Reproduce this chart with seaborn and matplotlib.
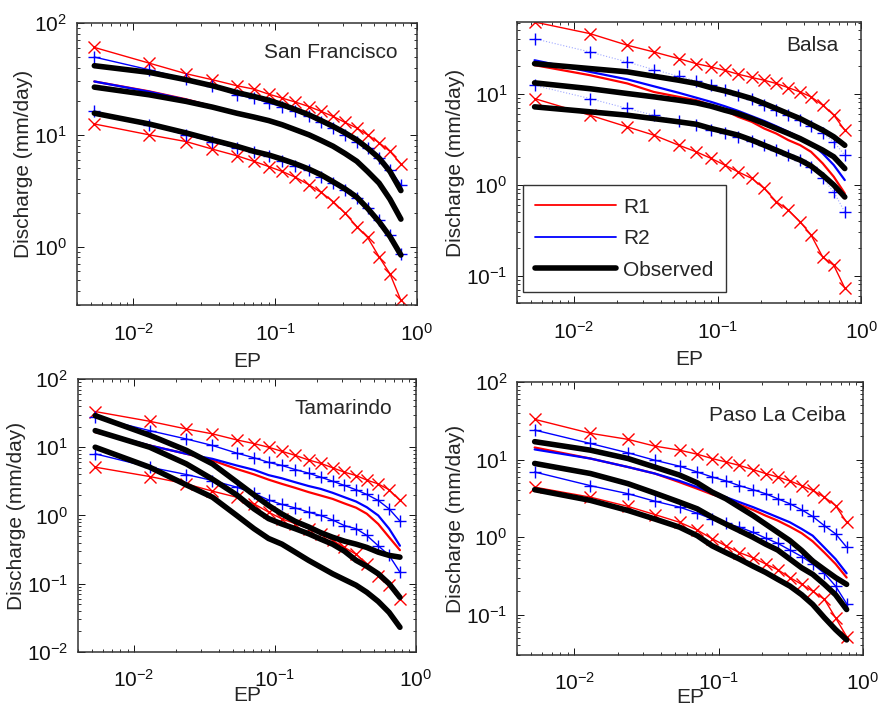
import numpy as np
import pandas as pd
import matplotlib
matplotlib.use("Agg")
import matplotlib.pyplot as plt
from matplotlib.lines import Line2D
import seaborn as sns

# ---------------- data ----------------
EP = [0.0053, 0.0129, 0.0235, 0.036, 0.0535, 0.071, 0.090, 0.112, 0.139,
      0.173, 0.211, 0.256, 0.311, 0.376, 0.448, 0.54, 0.645, 0.77]

STATIONS = ["San Francisco", "Balsa", "Tamarindo", "Paso La Ceiba"]

SF_R1_UP = [60.5, 43.8, 35.2, 31.1, 27.5, 25.6, 23.1, 21.3, 19.6, 17.9, 16.2, 14.6, 12.9, 11.5, 10.0, 8.5, 7.1, 5.5]
SF_R1_MED = [30, 24.5, 20.8, 18.0, 15.7, 14.5, 13.5, 12.4, 11.2, 10.1, 9.0, 8.0, 6.9, 5.9, 4.8, 3.8, 2.7, 1.8]
SF_R1_LOW = [12.5, 10.0, 8.7, 7.45, 6.5, 5.78, 5.2, 4.7, 4.17, 3.57, 3.05, 2.53, 1.99, 1.51, 1.21, 0.81, 0.57, 0.33]
SF_R2_UP = [49.6, 38.2, 31.5, 27.5, 22.8, 21.3, 19.2, 17.9, 16.2, 14.6, 12.9, 11.5, 10.0, 8.7, 7.6, 6.2, 4.86, 3.57]
SF_R2_MED = [30, 24.3, 20.6, 18.0, 15.7, 14.4, 13.4, 12.3, 11.1, 10.0, 8.9, 7.9, 6.8, 5.8, 4.7, 3.7, 2.65, 1.8]
SF_R2_LOW = [16.2, 12.3, 10.0, 8.7, 7.6, 6.95, 6.4, 5.85, 5.3, 4.8, 4.23, 3.74, 3.21, 2.71, 2.2, 1.73, 1.27, 0.86]
SF_OBS_1 = [41.5, 36.2, 31.1, 27.5, 23.9, 22.0, 20.4, 18.6, 16.8, 15.1, 13.4, 11.9, 10.4, 9.0, 7.6, 6.2, 4.7, 3.17]
SF_OBS_2 = [26.7, 22.8, 19.9, 17.7, 15.6, 14.4, 13.4, 12.3, 11.1, 10.0, 8.9, 7.9, 6.8, 5.8, 4.7, 3.7, 2.65, 1.76]
SF_OBS_3 = [15.6, 12.5, 10.4, 9.0, 7.9, 7.1, 6.6, 6.05, 5.5, 4.93, 4.38, 3.8, 3.28, 2.77, 2.2, 1.67, 1.23, 0.84]

BA_R1_UP = [61, 45.5, 33.9, 28.6, 24.2, 21.3, 19.6, 18.0, 16.3, 15.0, 14.0, 12.9, 11.6, 10.4, 9.2, 7.45, 5.8, 3.96]
BA_R1_MED = [20.5, 15.9, 12.9, 10.4, 9.2, 8.45, 7.45, 6.56, 5.55, 4.89, 4.13, 3.64, 3.08, 2.71, 2.29, 1.71, 1.22, 0.8]
BA_R1_LOW = [8.8, 5.78, 4.3, 3.49, 2.71, 2.29, 1.94, 1.64, 1.38, 1.17, 0.91, 0.65, 0.525, 0.39, 0.28, 0.16, 0.13, 0.073]
BA_R2_UP = [40, 28.6, 22.2, 18.3, 15.5, 13.8, 12.3, 10.9, 9.75, 8.6, 7.45, 6.56, 5.78, 5.1, 4.38, 3.64, 2.95, 2.1]
BA_R2_MED = [23.2, 17.3, 14.3, 12.0, 10.2, 9.0, 8.1, 7.26, 6.45, 5.64, 5.0, 4.38, 3.8, 3.29, 2.83, 2.2, 1.64, 1.12]
BA_R2_LOW = [12.3, 8.8, 6.85, 5.78, 5.0, 4.5, 3.96, 3.64, 3.35, 3.03, 2.71, 2.39, 2.1, 1.86, 1.57, 1.17, 0.83, 0.50]
BA_OBS_1 = [21.3, 18.8, 17.3, 15.5, 14.0, 12.9, 11.6, 10.7, 9.75, 8.8, 7.76, 6.84, 6.0, 5.3, 4.6, 3.96, 3.35, 2.7]
BA_OBS_2 = [13.1, 11.3, 10.0, 9.2, 8.45, 7.9, 7.26, 6.56, 6.0, 5.3, 4.69, 4.13, 3.64, 3.2, 2.78, 2.39, 2.02, 1.5]
BA_OBS_3 = [7.14, 6.3, 5.78, 5.3, 4.89, 4.6, 4.13, 3.8, 3.49, 3.08, 2.71, 2.39, 2.1, 1.86, 1.6, 1.27, 0.99, 0.73]

TA_R1_UP = [33.3, 24.0, 18.5, 15.7, 12.8, 11.3, 10.0, 8.7, 7.6, 6.5, 5.8, 5.0, 4.3, 3.85, 3.3, 2.9, 2.38, 1.66]
TA_R1_MED = [16.6, 10.6, 8.0, 6.4, 4.8, 4.0, 3.35, 2.9, 2.54, 2.2, 1.96, 1.75, 1.5, 1.3, 1.06, 0.75, 0.48, 0.31]
TA_R1_LOW = [5.1, 3.72, 2.9, 2.27, 1.85, 1.48, 1.12, 0.89, 0.76, 0.64, 0.54, 0.43, 0.34, 0.27, 0.196, 0.13, 0.095, 0.06]
TA_R2_UP = [27.5, 17.5, 13.2, 10.6, 8.2, 7.0, 6.0, 5.4, 4.71, 4.17, 3.64, 3.18, 2.75, 2.38, 2.03, 1.66, 1.25, 0.83]
TA_R2_MED = [17.5, 10.6, 8.0, 6.75, 5.4, 4.66, 3.9, 3.5, 3.07, 2.7, 2.45, 2.15, 1.85, 1.6, 1.32, 1.0, 0.64, 0.36]
TA_R2_LOW = [8.0, 5.1, 3.98, 3.25, 2.6, 2.1, 1.69, 1.45, 1.29, 1.12, 1.0, 0.86, 0.71, 0.64, 0.51, 0.36, 0.26, 0.148]
TA_OBS_1 = [29, 15, 9, 5.7, 3.1, 2.0, 1.4, 1.05, 0.82, 0.68, 0.56, 0.48, 0.42, 0.38, 0.34, 0.29, 0.26, 0.245]
TA_OBS_2 = [17.5, 10, 5.7, 3.4, 2.0, 1.25, 0.9, 0.75, 0.64, 0.54, 0.45, 0.38, 0.3, 0.22, 0.18, 0.14, 0.1, 0.063]
TA_OBS_3 = [10, 5.1, 2.8, 1.85, 1.0, 0.64, 0.46, 0.38, 0.29, 0.22, 0.175, 0.14, 0.115, 0.095, 0.075, 0.055, 0.038, 0.023]

PL_R1_UP = [33, 21.8, 18.2, 14.9, 13.2, 11.7, 10.3, 9.3, 8.4, 7.4, 6.6, 5.95, 5.3, 4.6, 4.0, 3.27, 2.55, 1.55]
PL_R1_MED = [14.3, 10.3, 8.0, 6.6, 5.1, 4.2, 3.55, 3.12, 2.63, 2.24, 1.89, 1.63, 1.36, 1.12, 0.88, 0.63, 0.45, 0.30]
PL_R1_LOW = [4.4, 3.27, 2.48, 1.95, 1.55, 1.23, 0.95, 0.77, 0.63, 0.54, 0.45, 0.38, 0.30, 0.245, 0.20, 0.157, 0.091, 0.052]
PL_R2_UP = [24, 16.1, 12.2, 9.8, 8.2, 6.9, 5.95, 5.3, 4.6, 4.08, 3.62, 3.12, 2.69, 2.24, 1.84, 1.4, 1.1, 0.74]
PL_R2_MED = [13.5, 10.3, 8.0, 6.6, 5.3, 4.4, 3.69, 3.27, 2.82, 2.43, 2.09, 1.8, 1.55, 1.27, 1.04, 0.73, 0.52, 0.34]
PL_R2_LOW = [6.9, 4.6, 3.62, 2.9, 2.43, 2.03, 1.71, 1.5, 1.34, 1.15, 0.97, 0.83, 0.68, 0.56, 0.45, 0.34, 0.233, 0.138]
PL_OBS_1 = [17, 13.2, 10.3, 8.0, 6.3, 5.0, 3.8, 3.12, 2.43, 1.89, 1.47, 1.15, 0.9, 0.67, 0.49, 0.38, 0.3, 0.245]
PL_OBS_2 = [8.9, 6.6, 4.88, 3.69, 2.82, 2.31, 1.8, 1.47, 1.21, 0.99, 0.81, 0.68, 0.52, 0.40, 0.33, 0.245, 0.18, 0.116]
PL_OBS_3 = [4.08, 2.97, 2.2, 1.71, 1.34, 1.04, 0.77, 0.63, 0.52, 0.42, 0.35, 0.285, 0.233, 0.18, 0.135, 0.091, 0.064, 0.047]

PANEL_SERIES = [
    (SF_R1_UP, SF_R1_MED, SF_R1_LOW, SF_R2_UP, SF_R2_MED, SF_R2_LOW, SF_OBS_1, SF_OBS_2, SF_OBS_3),
    (BA_R1_UP, BA_R1_MED, BA_R1_LOW, BA_R2_UP, BA_R2_MED, BA_R2_LOW, BA_OBS_1, BA_OBS_2, BA_OBS_3),
    (TA_R1_UP, TA_R1_MED, TA_R1_LOW, TA_R2_UP, TA_R2_MED, TA_R2_LOW, TA_OBS_1, TA_OBS_2, TA_OBS_3),
    (PL_R1_UP, PL_R1_MED, PL_R1_LOW, PL_R2_UP, PL_R2_MED, PL_R2_LOW, PL_OBS_1, PL_OBS_2, PL_OBS_3),
]
YLIMS = [(0.3, 100), (0.05, 61), (0.01, 100), (0.03, 100)]
LEGEND_LABELS = ["R1", "R2", "Observed"]

# ---------------- style ----------------
sns.set_style("ticks")
plt.rcParams["font.family"] = ["Liberation Sans", "DejaVu Sans"]
plt.rcParams["mathtext.fontset"] = "custom"
plt.rcParams["mathtext.rm"] = "Liberation Sans"
plt.rcParams["mathtext.it"] = "Liberation Sans:italic"
plt.rcParams["mathtext.bf"] = "Liberation Sans:bold"

FS = 15
RED = "#ff0000"
BLUE = "#0000ff"

fig = plt.figure(figsize=(8.79, 7.13), dpi=100)
positions = [
    [0.0876, 0.5722, 0.3868, 0.3955],
    [0.5882, 0.5750, 0.3914, 0.3941],
    [0.0887, 0.0856, 0.3845, 0.3829],
    [0.5882, 0.0813, 0.3936, 0.3829],
]
title_pos = [(0.944, 0.897), (0.933, 0.918), (0.929, 0.89), (0.951, 0.879)]
xlabel_pads = [5, 5, -3, -4]
xtick_pads = [13, 13, 12, 12]

for i, (name, series) in enumerate(zip(STATIONS, PANEL_SERIES)):
    ax = fig.add_axes(positions[i])
    r1u, r1m, r1l, r2u, r2m, r2l, o1, o2, o3 = series
    balsa = name == "Balsa"

    def draw(vals, color, lw, marker=None, ls="-", alpha=1.0, zorder=2,
             mcolor=None):
        df = pd.DataFrame({"EP": EP, "Q": vals})
        kw = dict(color=color, linewidth=lw, linestyle=ls, alpha=alpha,
                  zorder=zorder, legend=False, estimator=None, sort=False)
        if marker is not None:
            mc = mcolor if mcolor is not None else color
            kw.update(marker=marker, markersize=9, markeredgewidth=1.0,
                      markeredgecolor=mc, markerfacecolor="none")
        sns.lineplot(data=df, x="EP", y="Q", ax=ax, **kw)

    # R1
    draw(r1u, RED, 1.0, marker="x")
    draw(r1m, RED, 1.6)
    draw(r1l, RED, 1.0, marker="x")
    # R2
    if balsa:
        draw(r2u, "#9fa8ff", 0.8, marker="+", ls=":", mcolor=BLUE)
        draw(r2m, BLUE, 1.6)
        draw(r2l, "#9fa8ff", 0.8, marker="+", ls=":", mcolor=BLUE)
    else:
        draw(r2u, BLUE, 1.0, marker="+")
        draw(r2m, BLUE, 1.6)
        draw(r2l, BLUE, 1.0, marker="+")
    # Observed
    for o in (o1, o2, o3):
        draw(o, "black", 4.0, zorder=3)

    ax.set_xscale("log")
    ax.set_yscale("log")
    ax.set_xlim(0.004, 1)
    ax.set_ylim(*YLIMS[i])

    ax.tick_params(which="both", direction="in", top=True, right=True,
                   labelsize=FS, colors="#111111")
    ax.tick_params(which="major", length=5, width=0.7)
    ax.tick_params(which="minor", length=2.5, width=0.6)
    ax.tick_params(axis="x", which="major", pad=xtick_pads[i])
    ax.tick_params(axis="y", which="major", pad=7)
    for sp in ax.spines.values():
        sp.set_linewidth(1.1)
        sp.set_color("#333333")

    ax.set_xlabel("EP", fontsize=FS, labelpad=xlabel_pads[i])
    ax.set_ylabel("Discharge (mm/day)", fontsize=FS, labelpad=1)
    ax.text(title_pos[i][0], title_pos[i][1], name, transform=ax.transAxes,
            ha="right", va="center", fontsize=FS)

    if balsa:
        handles = [
            Line2D([], [], color=RED, lw=1.3),
            Line2D([], [], color=BLUE, lw=1.3),
            Line2D([], [], color="black", lw=4.0),
        ]
        leg = ax.legend(handles, LEGEND_LABELS, loc="lower left",
                        bbox_to_anchor=(0.017, 0.039), borderaxespad=0,
                        fontsize=FS, frameon=True, fancybox=False,
                        edgecolor="#333333", framealpha=1.0,
                        handlelength=3.85, handletextpad=0.35,
                        labelspacing=0.6, borderpad=0.6)
        leg.get_frame().set_linewidth(1.0)
        leg.set_zorder(10)

fig.savefig("out.png", dpi=100)
